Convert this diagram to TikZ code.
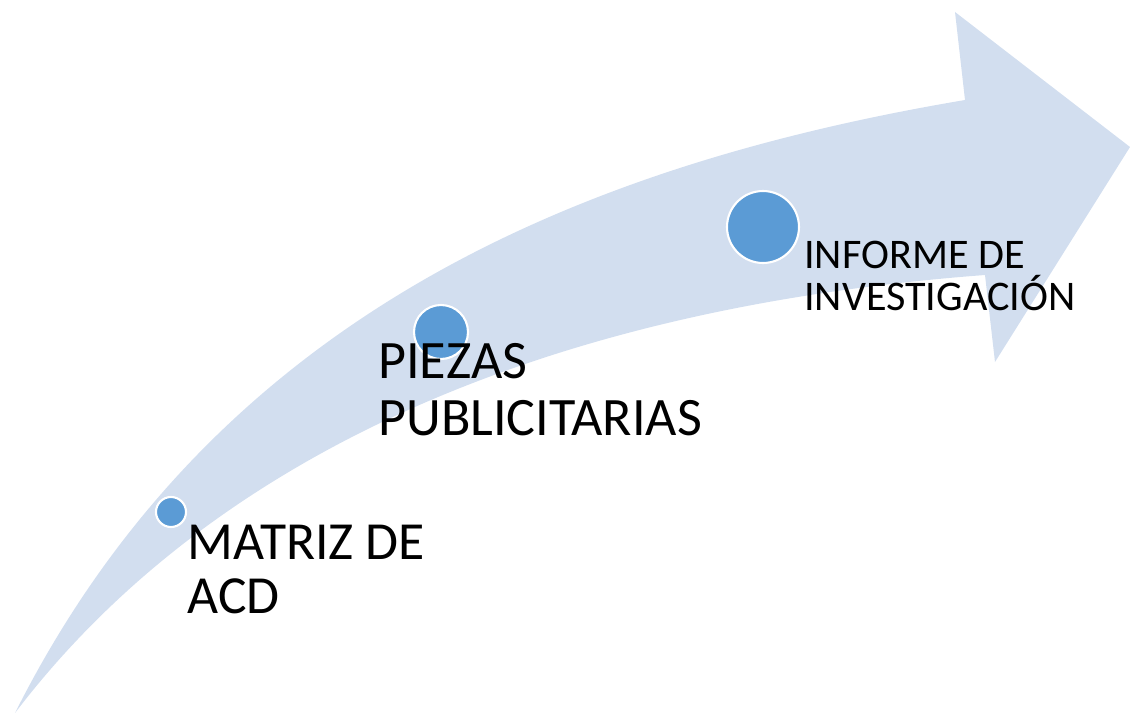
\documentclass[tikz,border=0pt]{standalone}
\usepackage{fontspec}
\usepackage{xcolor}
\usepackage{tikz}
\usetikzlibrary{positioning}
\setmainfont{Carlito}
\definecolor{bandfill}{RGB}{210,222,239}
\definecolor{dotblue}{RGB}{91,155,213}

\begin{document}
\begin{tikzpicture}[x=0.02cm,y=-0.02cm,
    stepdot/.style={circle,fill=dotblue,draw=white,line width=1.2pt,inner sep=0pt},
    steptext/.style={anchor=north west,inner sep=0pt,align=left,text=black}]
    \useasboundingbox (0,0) rectangle (1130,713);

    % Curved arrow
    \fill[bandfill] (15,713) .. controls (215,315) and (580,165) .. (965,100)
        -- (955,12) -- (1130,147) -- (995,362) -- (985,275)
        .. controls (520,310) and (200,470) .. (15,713) -- cycle;

    % Milestones
    \node[stepdot,minimum size=0.6cm] (acd) at (171,512) {};
    \node[stepdot,minimum size=1.08cm] (piezas) at (441,332) {};
    \node[stepdot,minimum size=1.44cm] (informe) at (763,227) {};

    % Labels
    \node[steptext,font=\fontsize{30.5}{30.6}\selectfont] (acdtext) at (187,525)
        {MATRIZ DE\\ACD};
    \node[steptext,font=\fontsize{30.8}{32.6}\selectfont] (piezastext) at (378,343)
        {PIEZAS\\PUBLICITARIAS};
    \node[steptext,font=\fontsize{24}{23.6}\selectfont] (informetext) at (804,241)
        {INFORME DE\\INVESTIGACIÓN};
\end{tikzpicture}
\end{document}
